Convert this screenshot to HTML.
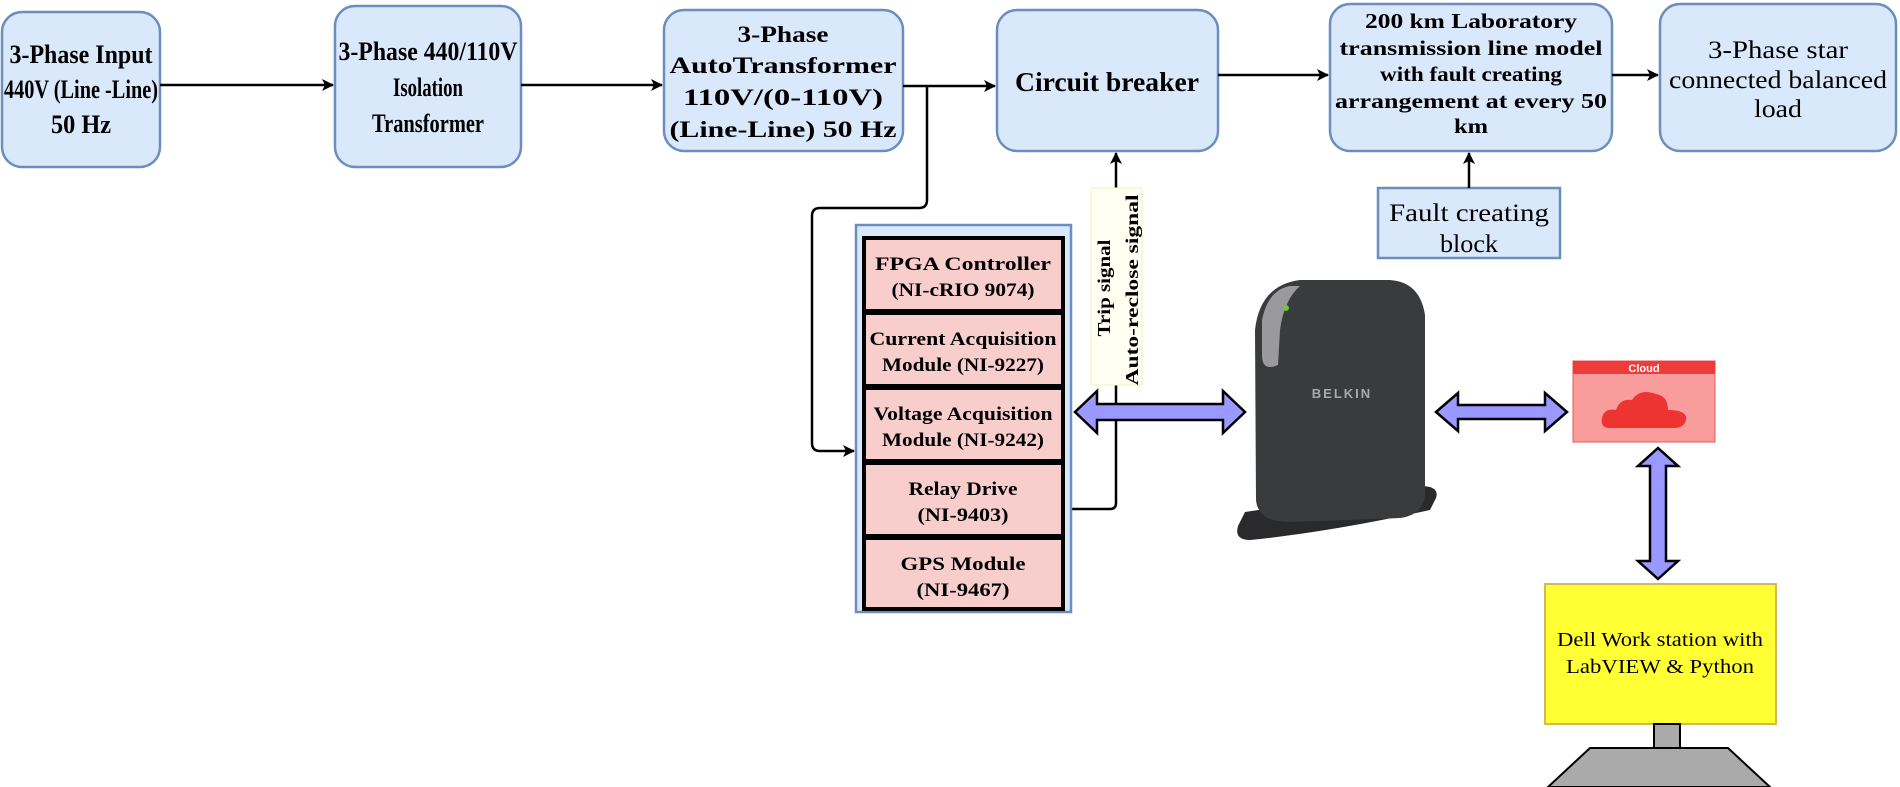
<!DOCTYPE html>
<html><head><meta charset="utf-8"><style>
html,body{margin:0;padding:0;background:#fff}
svg{display:block}
text{font-family:"Liberation Serif",serif}
.b{font-weight:bold}
</style></head><body>
<svg width="1900" height="787" viewBox="0 0 1900 787" xmlns="http://www.w3.org/2000/svg">
<defs>
<marker id="ah" markerWidth="12" markerHeight="12" refX="11" refY="6" orient="auto" markerUnits="userSpaceOnUse"><path d="M0,0 L12,6 L0,12 L3,6 z" fill="#000"/></marker>
</defs>
<g fill="#dae8fc" stroke="#6c8ebf" stroke-width="2.5">
<rect x="2" y="12" width="158" height="155" rx="20"/>
<rect x="335" y="6" width="186" height="161" rx="20"/>
<rect x="664" y="10" width="239" height="141" rx="20"/>
<rect x="997" y="10" width="221" height="141" rx="20"/>
<rect x="1330" y="4" width="282" height="147" rx="20"/>
<rect x="1660" y="4" width="236" height="147" rx="20"/>
<rect x="1378" y="188" width="182" height="70" rx="0"/>
</g>
<g class="b" font-size="26" text-anchor="middle" lengthAdjust="spacingAndGlyphs">
<text x="81" y="63" textLength="143" lengthAdjust="spacingAndGlyphs">3-Phase Input</text>
<text x="81" y="98" textLength="154" lengthAdjust="spacingAndGlyphs">440V (Line -Line)</text>
<text x="81" y="133" textLength="60" lengthAdjust="spacingAndGlyphs">50 Hz</text>
<text x="428" y="60" textLength="179" lengthAdjust="spacingAndGlyphs">3-Phase 440/110V</text>
<text x="428" y="96" textLength="70" lengthAdjust="spacingAndGlyphs">Isolation</text>
<text x="428" y="132" textLength="112" lengthAdjust="spacingAndGlyphs">Transformer</text>
</g>
<g class="b" font-size="23" text-anchor="middle">
<text x="783" y="42" textLength="91" lengthAdjust="spacingAndGlyphs">3-Phase</text>
<text x="783" y="73" textLength="227" lengthAdjust="spacingAndGlyphs">AutoTransformer</text>
<text x="783" y="105" textLength="200" lengthAdjust="spacingAndGlyphs">110V/(0-110V)</text>
<text x="783" y="137" textLength="227" lengthAdjust="spacingAndGlyphs">(Line-Line)  50 Hz</text>
</g>
<text class="b" x="1107" y="91" font-size="27" text-anchor="middle" textLength="184" lengthAdjust="spacingAndGlyphs">Circuit breaker</text>
<g class="b" font-size="21" text-anchor="middle">
<text x="1471" y="28" textLength="212" lengthAdjust="spacingAndGlyphs">200 km Laboratory</text>
<text x="1471" y="55" textLength="263" lengthAdjust="spacingAndGlyphs">transmission line model</text>
<text x="1471" y="81" textLength="182" lengthAdjust="spacingAndGlyphs">with fault creating</text>
<text x="1471" y="108" textLength="272" lengthAdjust="spacingAndGlyphs">arrangement at every 50</text>
<text x="1471" y="133" textLength="34" lengthAdjust="spacingAndGlyphs">km</text>
</g>
<g font-size="25" text-anchor="middle">
<text x="1778" y="58" textLength="140" lengthAdjust="spacingAndGlyphs">3-Phase star</text>
<text x="1778" y="88" textLength="218" lengthAdjust="spacingAndGlyphs">connected balanced</text>
<text x="1778" y="117" textLength="48" lengthAdjust="spacingAndGlyphs">load</text>
<text x="1469" y="221" textLength="160" lengthAdjust="spacingAndGlyphs">Fault creating</text>
<text x="1469" y="252" textLength="58" lengthAdjust="spacingAndGlyphs">block</text>
</g>
<g stroke="#000" stroke-width="2.5" fill="none">
<line x1="160" y1="85" x2="333" y2="85" marker-end="url(#ah)"/>
<line x1="521" y1="85" x2="662" y2="85" marker-end="url(#ah)"/>
<line x1="903" y1="86" x2="995" y2="86" marker-end="url(#ah)"/>
<line x1="1218" y1="75" x2="1328" y2="75" marker-end="url(#ah)"/>
<line x1="1612" y1="75" x2="1658" y2="75" marker-end="url(#ah)"/>
<line x1="1469" y1="188" x2="1469" y2="153" marker-end="url(#ah)"/>
<path d="M927,86 V200 Q927,208 919,208 H820 Q812,208 812,216 V443 Q812,451 820,451 H854" marker-end="url(#ah)"/>
<path d="M1071,509 H1110 Q1116,509 1116,503 V153" marker-end="url(#ah)"/>
</g>
<rect x="1091" y="188" width="51" height="197" fill="#fffff2" stroke="#f2f2c0" stroke-width="1"/>
<g class="b" font-size="18" text-anchor="middle">
<text transform="translate(1110,288) rotate(-90)" textLength="97" lengthAdjust="spacingAndGlyphs">Trip signal</text>
<text transform="translate(1138,290) rotate(-90)" textLength="191" lengthAdjust="spacingAndGlyphs">Auto-reclose signal</text>
</g>
<rect x="856" y="225" width="215" height="387" fill="#dae8fc" stroke="#6c8ebf" stroke-width="2.5"/>
<g fill="#f8cecc" stroke="#000" stroke-width="4">
<rect x="864" y="238" width="199" height="73"/>
<rect x="864" y="313" width="199" height="73"/>
<rect x="864" y="388" width="199" height="73"/>
<rect x="864" y="463" width="199" height="73"/>
<rect x="864" y="538" width="199" height="71"/>
</g>
<g class="b" font-size="19" text-anchor="middle">
<text x="963" y="270" textLength="176" lengthAdjust="spacingAndGlyphs">FPGA Controller</text>
<text x="963" y="296" textLength="143" lengthAdjust="spacingAndGlyphs">(NI-cRIO 9074)</text>
<text x="963" y="345" textLength="187" lengthAdjust="spacingAndGlyphs">Current Acquisition</text>
<text x="963" y="371" textLength="162" lengthAdjust="spacingAndGlyphs">Module (NI-9227)</text>
<text x="963" y="420" textLength="179" lengthAdjust="spacingAndGlyphs">Voltage Acquisition</text>
<text x="963" y="446" textLength="162" lengthAdjust="spacingAndGlyphs">Module (NI-9242)</text>
<text x="963" y="495" textLength="109" lengthAdjust="spacingAndGlyphs">Relay Drive</text>
<text x="963" y="521" textLength="91" lengthAdjust="spacingAndGlyphs">(NI-9403)</text>
<text x="963" y="570" textLength="125" lengthAdjust="spacingAndGlyphs">GPS Module</text>
<text x="963" y="596" textLength="93" lengthAdjust="spacingAndGlyphs">(NI-9467)</text>
</g>
<!-- router -->
<path d="M1245,512 L1420,486 Q1440,486 1436,498 L1430,510 Q1330,532 1250,540 Q1234,540 1238,526 z" fill="#2a2a2c"/>
<path d="M1255,330 Q1260,285 1300,280 L1390,280 Q1420,282 1425,315 L1425,495 Q1423,515 1400,518 L1290,522 Q1258,522 1256,500 z" fill="#3a3b3d"/>
<path d="M1262,320 Q1268,290 1290,286 L1300,286 Q1284,300 1280,330 L1278,365 Q1262,372 1262,355 z" fill="#9a9a9c"/>
<circle cx="1286" cy="308" r="3" fill="#6c3"/>
<text x="1342" y="398" font-size="13" font-weight="bold" fill="#aaa" text-anchor="middle" letter-spacing="2" style="font-family:'Liberation Sans',sans-serif">BELKIN</text>
<!-- big arrows -->
<g fill="#9999ff" stroke="#000" stroke-width="2.5">
<path d="M1075,412 L1097,391 V404 H1223 V391 L1245,412 L1223,433 V420 H1097 V433 z"/>
<path d="M1436,412 L1458,393 V405 H1545 V393 L1567,412 L1545,431 V419 H1458 V431 z"/>
<path d="M1658,448 L1678,466 H1666 V561 H1678 L1658,579 L1638,561 H1650 V466 H1638 z"/>
</g>
<!-- cloud -->
<rect x="1573" y="361" width="142" height="81" fill="#f89c9c" stroke="#e55" stroke-width="1"/>
<rect x="1573" y="361" width="142" height="13" fill="#ee3b3b"/>
<text x="1644" y="372" font-size="11" fill="#fff" text-anchor="middle" style="font-family:'Liberation Sans',sans-serif" font-weight="bold">Cloud</text>
<path d="M1610,428 Q1600,428 1602,418 Q1604,408 1616,410 Q1620,398 1632,400 Q1640,388 1656,394 Q1668,396 1668,410 Q1688,410 1686,420 Q1684,428 1674,428 z" fill="#ee3333"/>
<!-- Dell -->
<rect x="1545" y="584" width="231" height="140" fill="#ffff33" stroke="#d6b656" stroke-width="2"/>
<g font-size="20" text-anchor="middle">
<text x="1660" y="646" textLength="206" lengthAdjust="spacingAndGlyphs">Dell Work station with</text>
<text x="1660" y="673" textLength="188" lengthAdjust="spacingAndGlyphs">LabVIEW &amp; Python</text>
</g>
<rect x="1654" y="724" width="26" height="24" fill="#aaa" stroke="#000" stroke-width="2"/>
<path d="M1590,748 H1728 L1770,787 H1548 z" fill="#aaa" stroke="#000" stroke-width="2"/>
</svg>
</body></html>
